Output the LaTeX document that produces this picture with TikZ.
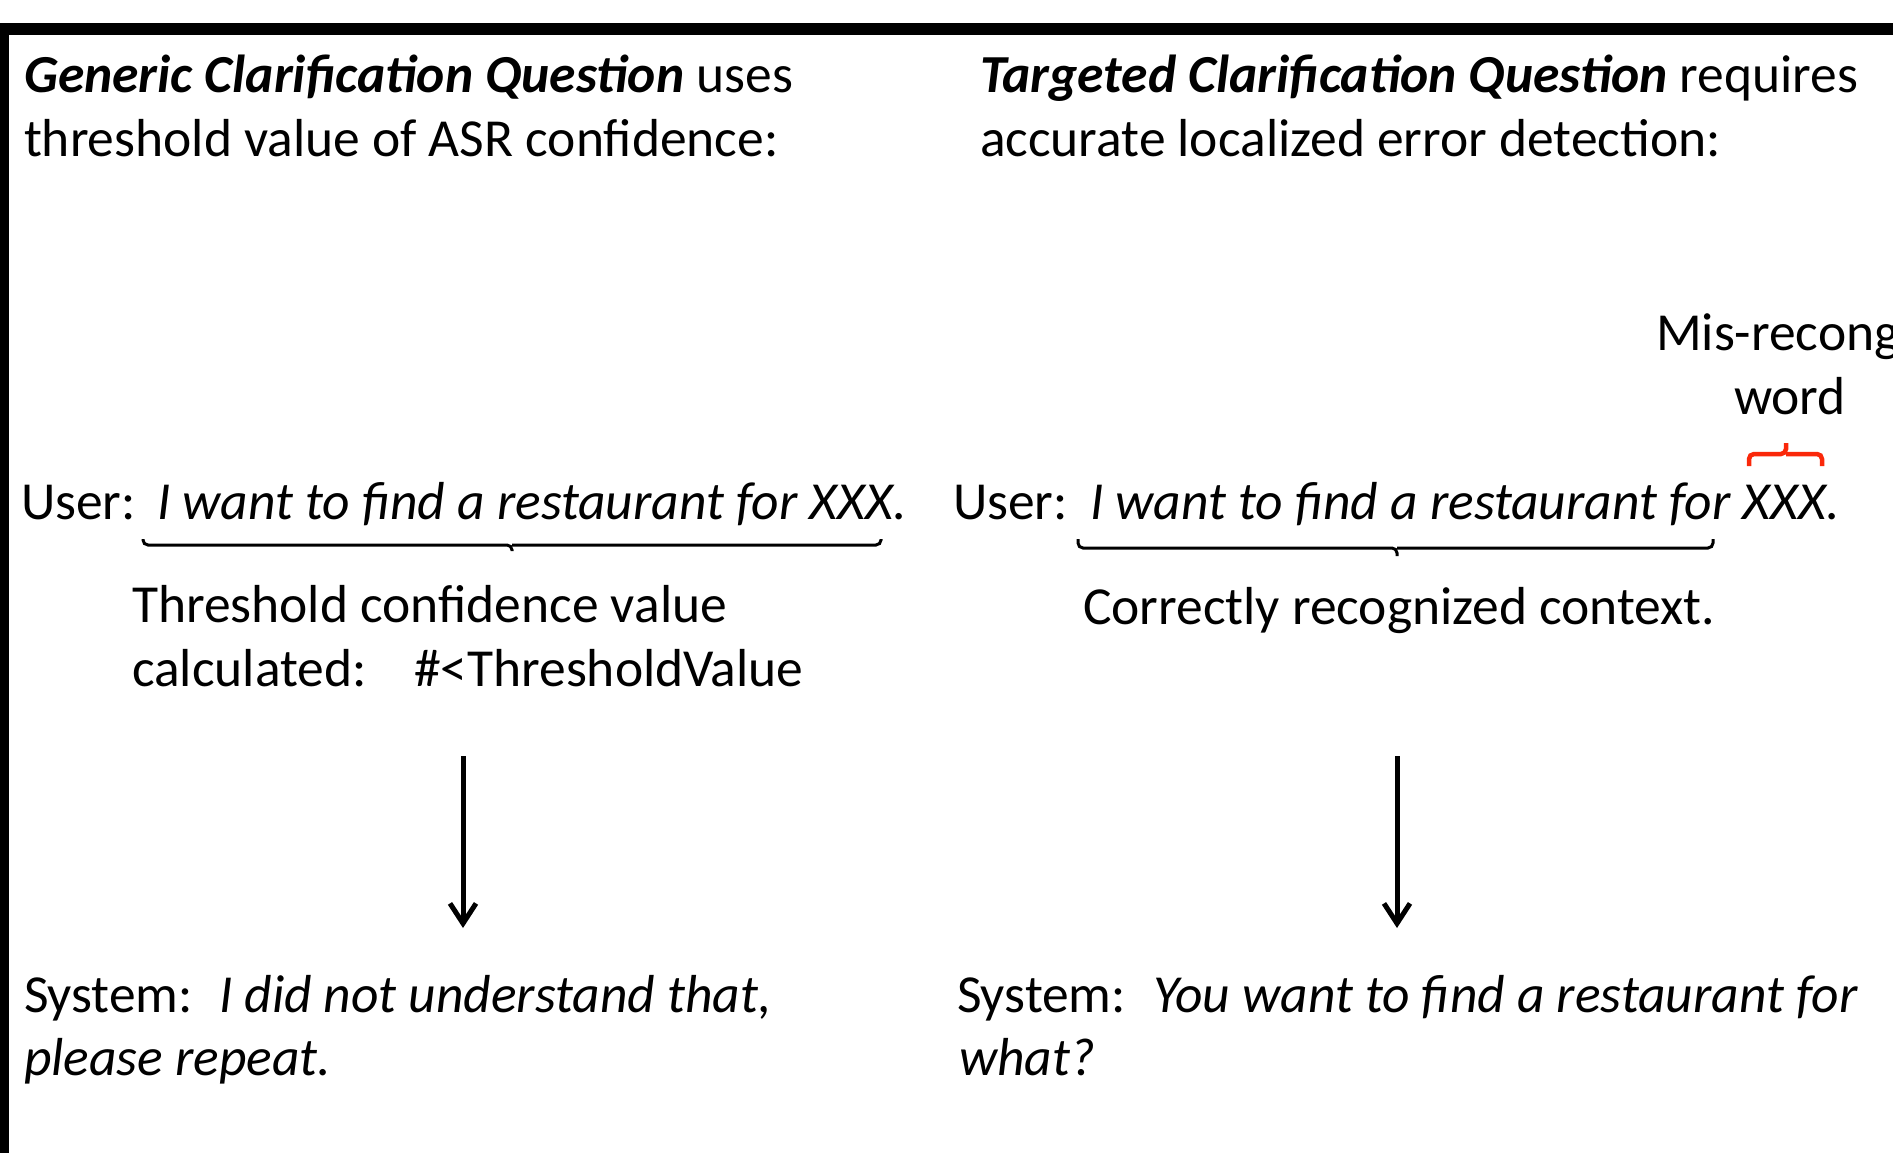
\documentclass[tikz,border=0pt]{standalone}
\usepackage{fontspec}
\setmainfont{Carlito}
\usetikzlibrary{arrows.meta}
\begin{document}
\begin{tikzpicture}[x=1pt,y=-1pt,
  txt/.style={anchor=base west,inner sep=0pt,outer sep=0pt,font=\fontsize{53.5}{64}\selectfont},
  ctxt/.style={anchor=base,inner sep=0pt,outer sep=0pt,font=\fontsize{53.5}{64}\selectfont},
  bracket/.style={line width=3pt,rounded corners=5pt},
  redbracket/.style={line width=4.5pt,rounded corners=5pt,draw={rgb,255:red,250;green,40;blue,10}},
  flow/.style={line width=5pt,-{Straight Barb[length=20pt,width=26pt]}}]
\useasboundingbox (0,0) rectangle (1893,1153);
\clip (0,0) rectangle (1893,1153);

% outer frame (only top and left edges fall inside the page)
\draw[line width=12pt] (3,1200) -- (3,29) -- (1950,29);

% ---- left column: generic clarification ----
\node[txt] (hL1) at (24,93) {\textbf{\textit{Generic Clarification Question}} uses};
\node[txt] (hL2) at (24,157) {threshold value of ASR confidence:};

\node[txt] (userL) at (21,519) {User:};
\node[txt] (uttL) at (157,519) {\textit{I want to find a restaurant for XXX.}};

\draw[bracket] (143,539) |- (512,545) -- (512,551);
\draw[bracket] (881,539) |- (512,545);

\node[txt] (thrL1) at (132,622) {Threshold confidence value};
\node[txt] (thrL2) at (132,686) {calculated:};
\node[txt] (thrV) at (414,686) {\#<ThresholdValue};

\coordinate (aLs) at (463,756);
\coordinate (aLe) at (463,928);
\draw[flow] (aLs) -- (aLe);

\node[txt] (sysL) at (24,1012) {System:};
\node[txt] (repL1) at (219,1012) {\textit{I did not understand that,}};
\node[txt] (repL2) at (24,1075) {\textit{please repeat.}};

% ---- right column: targeted clarification ----
\node[txt] (hR1) at (980,93) {\textbf{\textit{Targeted Clarification Question}} requires};
\node[txt] (hR2) at (980,157) {accurate localized error detection:};

\node[txt] (mis1) at (1656,350) {Mis-recong};
\node[ctxt] (mis2) at (1790,414) {word};
\draw[redbracket] (1749,466) |- (1786,454) -- (1786,443);
\draw[redbracket] (1822,466) |- (1786,454);

\node[txt] (userR) at (953,519) {User:};
\node[txt] (uttR) at (1090,519) {\textit{I want to find a restaurant for XXX.}};

\draw[bracket] (1078,539) |- (1397,548) -- (1397,556);
\draw[bracket] (1713,539) |- (1397,548);

\node[txt] (ctxR) at (1083,624) {Correctly recognized context.};

\coordinate (aRs) at (1397,756);
\coordinate (aRe) at (1397,928);
\draw[flow] (aRs) -- (aRe);

\node[txt] (sysR) at (957,1012) {System:};
\node[txt] (repR1) at (1153,1012) {\textit{You want to find a restaurant for}};
\node[txt] (repR2) at (959,1075) {\textit{what?}};
\end{tikzpicture}
\end{document}
